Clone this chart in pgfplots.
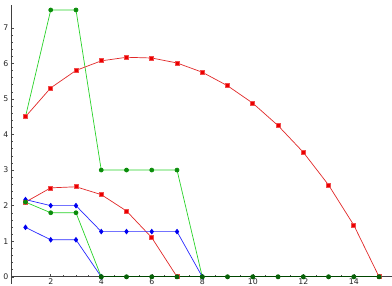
\documentclass[border=0pt]{standalone}
\usepackage{pgfplots}
\pgfplotsset{compat=1.18}
\usepackage{fontspec}
\setmainfont{DejaVu Sans}
\definecolor{lred}{RGB}{225,40,40}
\definecolor{mred}{RGB}{235,0,0}
\definecolor{lgreen}{RGB}{40,210,40}
\definecolor{mgreen}{RGB}{10,140,10}
\definecolor{dgreen}{RGB}{0,70,0}
\definecolor{lblue}{RGB}{40,40,255}
\definecolor{mblue}{RGB}{0,0,240}
\begin{document}
\begin{tikzpicture}
\begin{axis}[
  scale only axis,
  width=381pt, height=279pt,
  axis lines=middle,
  axis line style={-, black!75, line width=0.6pt},
  xmin=0.42, xmax=15.5, ymin=-0.2, ymax=7.64,
  xtick={2,4,6,8,10,12,14},
  ytick={0,1,2,3,4,5,6,7},
  hide obscured y ticks=false,
  minor x tick num=3,
  minor y tick num=4,
  tick align=inside,
  major tick length=3pt,
  minor tick length=1.8pt,
  tick style={black!70, line width=0.5pt},
  every tick label/.append style={font=\fontsize{7.8}{8}\selectfont, text=black!85},
  /pgf/number format/assume math mode=true,
  xticklabel style={yshift=0pt, inner sep=1.5pt},
  yticklabel style={xshift=1pt},
  clip=false,
]
\addplot[lgreen, line width=0.7pt, mark=*, mark size=2pt, mark options={fill=mgreen, draw=mgreen}]
 coordinates {(1,4.5)(2,7.5)(3,7.5)(4,3)(5,3)(6,3)(7,3)(8,0)};
\addplot[lred, line width=0.7pt, mark=square*, mark size=2pt, mark options={fill=mred, draw=mred!70!white}]
 coordinates {(1,4.5)(2,5.31)(3,5.80)(4,6.07)(5,6.17)(6,6.15)(7,6.01)(8,5.75)(9,5.37)(10,4.88)(11,4.25)(12,3.50)(13,2.58)(14,1.45)(15,0)};
\addplot[lred, line width=0.7pt, mark=square*, mark size=2pt, mark options={fill=mred, draw=mred!70!white}]
 coordinates {(1,2.1)(2,2.5)(3,2.53)(4,2.31)(5,1.85)(6,1.1)(7,0)};
\addplot[lblue, line width=0.7pt, mark=diamond*, mark size=2.3pt, mark options={fill=mblue, draw=mblue}]
 coordinates {(1,2.17)(2,2.0)(3,2.0)(4,1.27)(5,1.27)(6,1.27)(7,1.27)(8,0)};
\addplot[lblue, line width=0.7pt, mark=diamond*, mark size=2.3pt, mark options={fill=mblue, draw=mblue}]
 coordinates {(1,1.39)(2,1.04)(3,1.04)(4,0)};
\addplot[lgreen, line width=0.7pt, mark=*, mark size=2pt, mark options={fill=mgreen, draw=mgreen}]
 coordinates {(1,2.1)(2,1.8)(3,1.8)(4,0)};
\addplot[dgreen, line width=0.9pt, mark=*, mark size=2pt, mark options={fill=mgreen!70!black, draw=mgreen!70!black}]
 coordinates {(4,0)(5,0)(6,0)(7,0)(8,0)(9,0)(10,0)(11,0)(12,0)(13,0)(14,0)(15,0)};
\end{axis}
\path (current axis.north) ++(0,5pt) coordinate (topextra);
\path (topextra) -- (current axis.north);
\end{tikzpicture}
\end{document}
